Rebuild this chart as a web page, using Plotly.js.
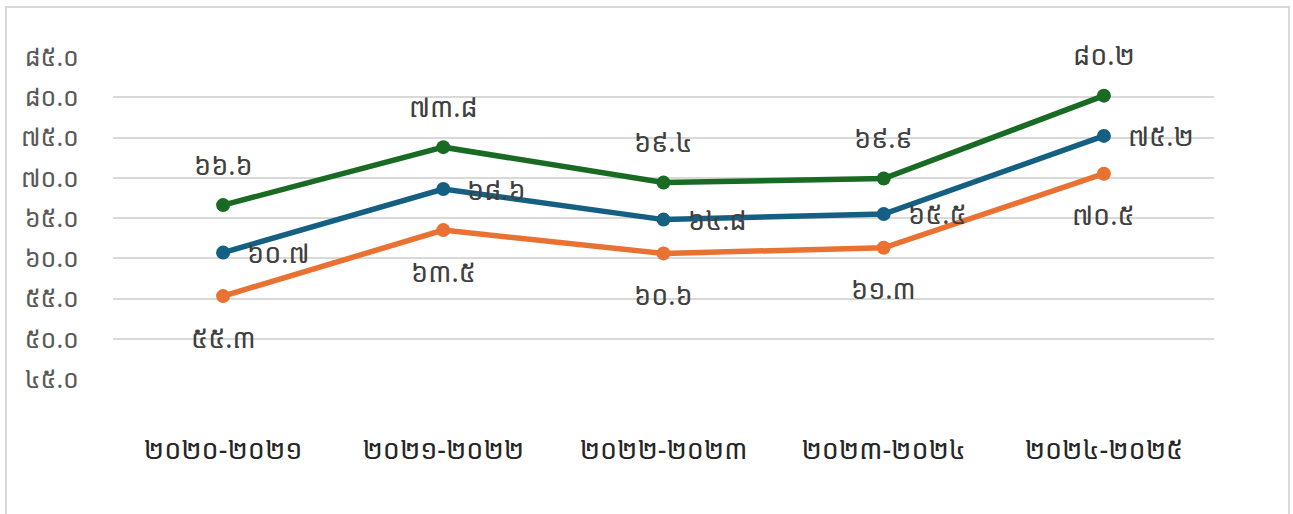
<!DOCTYPE html>
<html>
<head>
<meta charset="utf-8">
<script src="https://cdn.plot.ly/plotly-3.0.1.min.js"></script>
<style>
html,body{margin:0;padding:0;background:#fff;}
#chart{width:1293px;height:514px;}
</style>
</head>
<body>
<div id="chart"></div>
<script>
const categories = ["២០២០-២០២១", "២០២១-២០២២", "២០២២-២០២៣", "២០២៣-២០២៤", "២០២៤-២០២៥"];
const greenValues = [66.6, 73.8, 69.4, 69.9, 80.2];
const blueValues = [60.7, 68.6, 64.8, 65.5, 75.2];
const orangeValues = [55.3, 63.5, 60.6, 61.3, 70.5];
const yTickValues = [45, 50, 55, 60, 65, 70, 75, 80, 85];
const yTickLabels = ["៤៥.០", "៥០.០", "៥៥.០", "៦០.០", "៦៥.០", "៧០.០", "៧៥.០", "៨០.០", "៨៥.០"];

const khDigits = ["០","១","២","៣","៤","៥","៦","៧","៨","៩"];
function toKhmer(v){ return v.toFixed(1).replace(/[0-9]/g, d => khDigits[+d]); }

const FONT = '"Noto Sans Khmer", "Khmer OS", "Noto Sans", "DejaVu Sans", sans-serif';
const colors = {green:"#196B24", blue:"#156082", orange:"#E97132"};

function series(vals, color){
  return {x: categories, y: vals, type:"scatter", mode:"lines+markers",
    line:{color:color, width:5.5}, marker:{color:color, size:14}, hoverinfo:"skip", cliponaxis:false};
}
const data = [series(orangeValues, colors.orange), series(blueValues, colors.blue), series(greenValues, colors.green)];

const annotations = [];
const lblFont = {family: FONT, size: 27, color: "#404040"};
categories.forEach((c,i)=>{
  annotations.push({x:c, y:greenValues[i], text:toKhmer(greenValues[i]), showarrow:false, yshift:41, font:lblFont, xanchor:"center", yanchor:"middle"});
  annotations.push({x:c, y:blueValues[i], text:toKhmer(blueValues[i]), showarrow:false, xshift:22, font:lblFont, xanchor:"left", yanchor:"middle"});
  annotations.push({x:c, y:orangeValues[i], text:toKhmer(orangeValues[i]), showarrow:false, yshift:-41, font:lblFont, xanchor:"center", yanchor:"middle"});
});

const layout = {
  width:1293, height:514,
  margin:{l:113, r:79, t:57, b:135},
  paper_bgcolor:"#fff", plot_bgcolor:"rgba(0,0,0,0)",
  showlegend:false,
  xaxis:{type:"category", range:[-0.5,4.5], showgrid:false, zeroline:false, showline:false,
    ticks:"", ticklabelstandoff:52, tickfont:{family:FONT, size:27, color:"#262626"}, fixedrange:true},
  yaxis:{range:[45,85], tickvals:yTickValues, ticktext:yTickLabels, showgrid:true, gridcolor:"#d9d9d9", gridwidth:2,
    zeroline:false, showline:false, ticks:"", ticklabelstandoff:33, tickfont:{family:FONT, size:25, color:"#595959"}, fixedrange:true},
  annotations: annotations,
  shapes:[{type:"rect", xref:"paper", yref:"paper", x0:(6-113)/1101, x1:(1289-113)/1101, y0:-0.6, y1:(379-7)/322,
    line:{color:"#d9d9d9", width:2}, fillcolor:"rgba(0,0,0,0)", layer:"below"}]
};
Plotly.newPlot("chart", data, layout, {displayModeBar:false, staticPlot:true});
</script>
</body>
</html>
